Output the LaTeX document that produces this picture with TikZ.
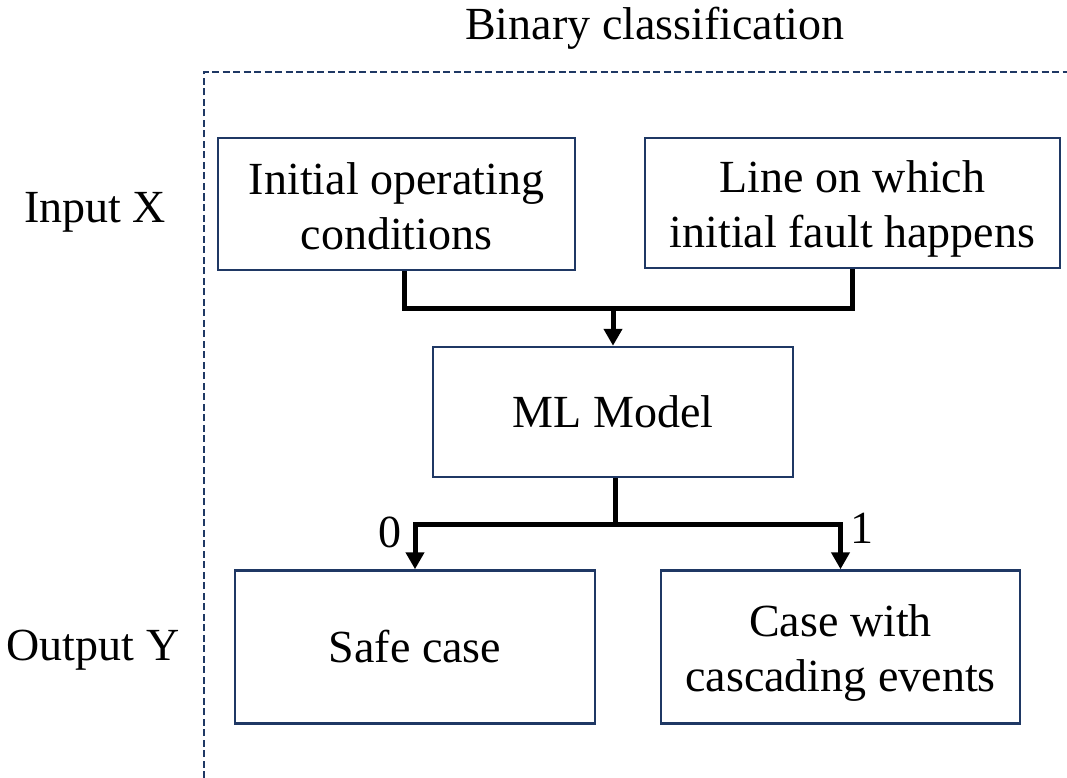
\documentclass[tikz,border=0pt]{standalone}
\usepackage{fontspec}
\setmainfont{Liberation Serif}
\usetikzlibrary{arrows.meta}
\definecolor{navy}{RGB}{31,56,100}
\begin{document}
\begin{tikzpicture}[x=1pt,y=-1pt,
  box/.style={draw=navy,line width=2.5pt,minimum width=#1,inner sep=0pt,align=center,
    font=\fontsize{46}{55}\selectfont},
  lbl/.style={font=\fontsize{46}{55}\selectfont,inner sep=0pt},
  wire/.style={line width=5pt},
  arr/.style={wire,-{Triangle[width=18pt,length=17pt]}},
  frame/.style={draw=navy,line width=2.5pt,dash pattern=on 7pt off 3.5pt}]
\useasboundingbox (0,0) rectangle (1067,778);
% dashed frame around the classifier
\draw[frame] (204,778) -- (204,72) -- (1067,72);
\node[lbl] (title) at (655,28) {Binary classification};
\node[lbl] (inx) at (95,212) {Input X};
\node[lbl] (outy) at (93,650) {Output Y};
% boxes
\node[box=357pt,minimum height=132pt] (b1) at (396.5,204) {};
\node[box=415pt,minimum height=130pt] (b2) at (852.5,203) {};
\node[box=360pt,minimum height=130pt] (ml) at (613,412) {ML Model};
\node[box=360pt,minimum height=153pt] (safe) at (415,647) {Safe case};
\node[box=359pt,minimum height=153pt] (casc) at (840.5,647) {};
% two-line box texts, set a little below the box centres
\node[lbl,align=center] (t1) at ([yshift=-2pt]b1.center) {Initial operating\\conditions};
\node[lbl,align=center] (t2) at ([yshift=-6pt]b2.center) {Line on which\\initial fault happens};
\node[lbl,align=center] (t3) at ([yshift=-6pt]casc.center) {Case with\\cascading events};
% joints
\coordinate (j1) at (613,308);
\coordinate (j2) at (615,524);
\draw[wire] ([xshift=8pt]b1.south) |- (j1) -| (b2.south);
\draw[arr] (j1) -- (ml.north);
\draw[wire] ([xshift=2pt]ml.south) -- (j2);
\draw[arr] (j2) -| (safe.north);
\draw[arr] (j2) -| (casc.north);
\node[lbl] (zero) at (390,532) {0};
\node[lbl] (one) at (862,528) {1};
\end{tikzpicture}
\end{document}
